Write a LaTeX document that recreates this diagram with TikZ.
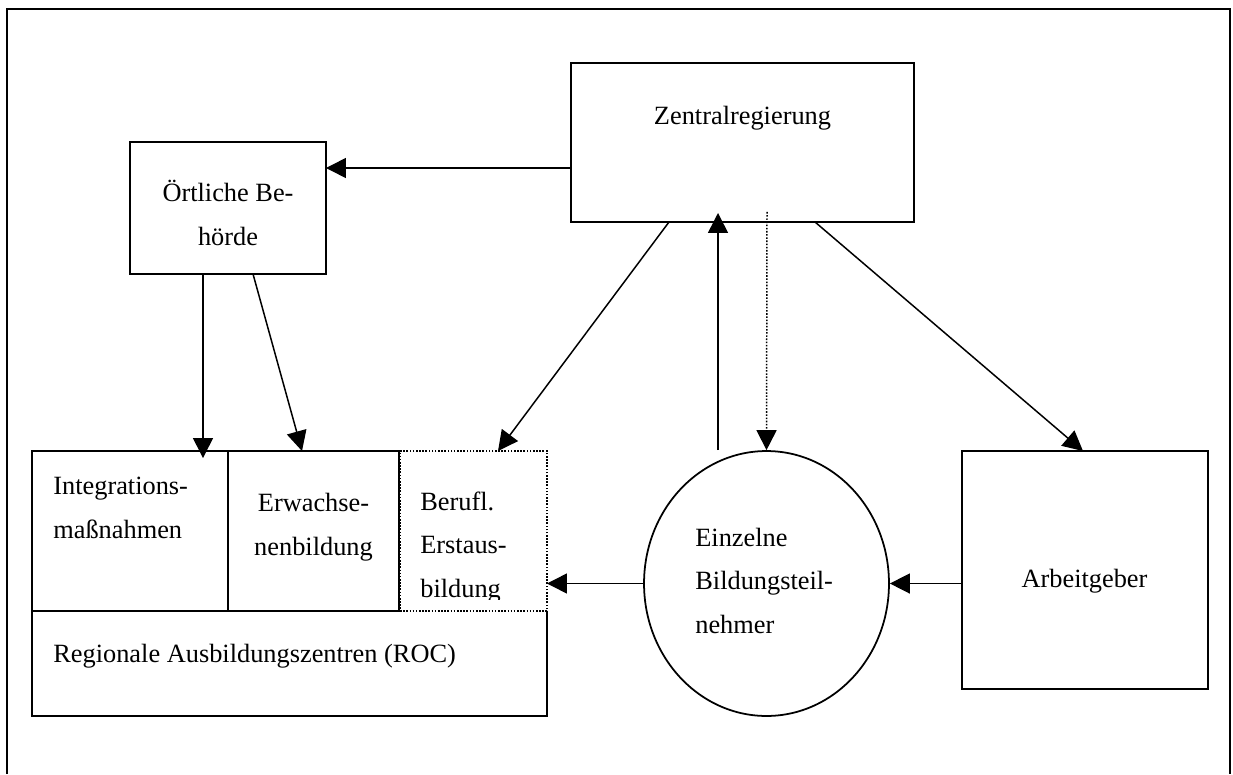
\documentclass[tikz,border=0pt]{standalone}
\usepackage{fontspec}
\setmainfont{Liberation Serif}
\usetikzlibrary{shapes.geometric,arrows.meta,calc}

\begin{document}
\begin{tikzpicture}[x=0.02cm, y=-0.02cm,
    box/.style={draw, line width=1pt, rectangle, inner sep=0pt, outer sep=0pt},
    arr/.style={line width=0.85pt, -{Triangle[length=0.4cm, width=0.4cm]}},
    dotline/.style={line width=0.85pt, dash pattern=on 0.9pt off 0.9pt},
    lbl/.style={inner sep=0pt, font=\fontsize{15}{24.5}\selectfont}]
    \useasboundingbox (0,0) rectangle (1233,774);
    % Frame
    \draw[line width=1.3pt] (7,774) -- (7,9) -- (1230,9) -- (1230,774);

    % Boxes
    \node[box, minimum width=6.86cm, minimum height=3.18cm] (zentral) at (742.5,142.5) {};
    \node[box, minimum width=3.92cm, minimum height=2.64cm] (ortl) at (228,208) {};
    \node[box, minimum width=3.92cm, minimum height=3.2cm] (integ) at (130,531) {};
    \node[box, minimum width=3.42cm, minimum height=3.2cm] (erw) at (313.5,531) {};
    \node[box, dotline, minimum width=2.94cm, minimum height=3.2cm] (beruf) at (473.5,531) {};
    \node[inner sep=0pt, minimum width=10.3cm, minimum height=2.1cm] (roc) at (289.5,663.5) {};
    \draw[line width=1pt] (roc.north west) -- (roc.south west) -- (roc.south east) -- (roc.north east);
    \node[draw, ellipse, line width=1pt, inner sep=0pt, minimum width=4.9cm, minimum height=5.3cm] (eins) at (766.5,583.5) {};
    \node[box, minimum width=4.92cm, minimum height=4.76cm] (arb) at (1085,570) {};

    % Texts (base = last line)
    \node[lbl, anchor=base] (ztext) at (742.5,124) {Zentralregierung};
    \node[lbl, anchor=base, align=center] (otext) at (228,245) {Örtliche Be-\\hörde};
    \node[lbl, anchor=base west, align=left] (itext) at (53,538) {Integrations-\\maßnahmen};
    \node[lbl, anchor=base, align=center] (etext) at (313.5,555) {Erwachse-\\nenbildung};
    \begin{scope}
        \clip (beruf.north west) rectangle ($(beruf.south east)+(0,-11)$);
        \node[lbl, anchor=base west, align=left] (btext) at (420,597) {Berufl.\\Erstaus-\\bildung};
    \end{scope}
    \node[lbl, anchor=base west] (rtext) at (53,662) {Regionale Ausbildungszentren (ROC)};
    \node[lbl, anchor=base west, align=left] (eitext) at (695,633) {Einzelne\\Bildungsteil-\\nehmer};
    \node[lbl, anchor=base] (atext) at (1084.5,587) {Arbeitgeber};

    % Arrows
    \draw[arr] (zentral.west |- 0,168) -- (ortl.east |- 0,168);
    \draw[arr] (ortl.south -| 203,0) -- ($(integ.north -| 203,0)+(0,7)$);
    \draw[arr] ($(ortl.south)+(25,0)$) -- (erw.north -| 302,0);
    \draw[arr] ($(zentral.south)+(-73.5,0)$) -- (beruf.north -| 498,0);
    \draw[arr] (eins.north -| 718,0) -- ($(zentral.south -| 718,0)+(0,-9)$);
    \draw[arr, dotline] ($(zentral.south -| 767,0)+(0,-10)$) -- (eins.north);
    \draw[arr] ($(zentral.south)+(72.5,0)$) -- (arb.north -| 1083,0);
    \draw[arr] (eins.west) -- (beruf.east |- eins.west);
    \draw[arr] (arb.west |- eins.east) -- (eins.east);
\end{tikzpicture}
\end{document}
